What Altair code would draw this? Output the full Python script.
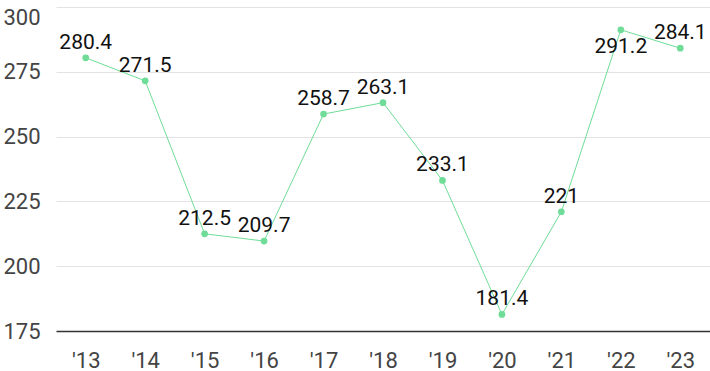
import altair as alt
import pandas as pd

years = ["'13", "'14", "'15", "'16", "'17", "'18", "'19", "'20", "'21", "'22", "'23"]
values = [280.4, 271.5, 212.5, 209.7, 258.7, 263.1, 233.1, 181.4, 221, 291.2, 284.1]
labels = ["280.4", "271.5", "212.5", "209.7", "258.7", "263.1", "233.1", "181.4", "221", "291.2", "284.1"]

df = pd.DataFrame({"year": years, "value": values, "label": labels})

FONT = "Roboto"
GREEN = "#6fdc98"

x = alt.X("year:O", sort=years, title=None,
          scale=alt.Scale(paddingOuter=0.5),
          axis=alt.Axis(labelAngle=0, labelFontSize=22, labelColor="#444444", labelFont=FONT,
                        ticks=False, domainColor="#333333", domainWidth=1.5, labelPadding=19))
y = alt.Y("value:Q", title=None,
          scale=alt.Scale(domain=[175, 300], nice=False, zero=False),
          axis=alt.Axis(values=[175, 200, 225, 250, 275, 300], labelFontSize=22, labelColor="#444444",
                        labelFont=FONT, ticks=False, domain=False, gridColor="#e3e3e3", labelPadding=16,
                        labelBaseline=alt.condition("datum.value >= 300", alt.value("top"), alt.value("middle"))))

base = alt.Chart(df)
line = base.mark_line(color=GREEN, strokeWidth=1).encode(x=x, y=y)
pts = base.mark_point(filled=True, color=GREEN, size=45, opacity=1).encode(x=x, y=y)
above = base.transform_filter("datum.value < 290").mark_text(
    font=FONT, fontSize=21, color="#111111", dy=-15).encode(x=x, y=y, text="label:N")
below = base.transform_filter("datum.value >= 290").mark_text(
    font=FONT, fontSize=21, color="#111111", dy=17).encode(x=x, y=y, text="label:N")

chart = (line + pts + above + below).properties(
    width=654, height=324,
    autosize=alt.AutoSizeParams(type="none"),
    padding={"left": 56, "top": 7, "right": 0, "bottom": 40},
).configure_view(stroke=None)

chart.save("out.html", embed_options={"renderer": "svg", "actions": False})
